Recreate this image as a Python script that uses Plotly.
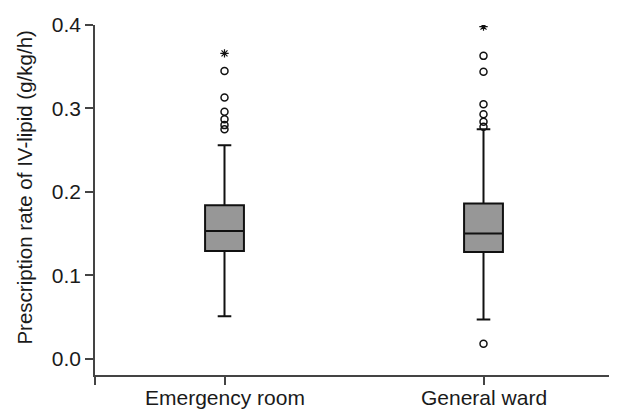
import plotly.graph_objects as go

categories = ["Emergency room", "General ward"]
q1 = [0.129, 0.128]
median = [0.153, 0.150]
q3 = [0.184, 0.186]
lower_whisker = [0.051, 0.047]
upper_whisker = [0.256, 0.275]
outliers_er = [0.275, 0.280, 0.287, 0.296, 0.313, 0.345]
outliers_gw = [0.018, 0.278, 0.284, 0.293, 0.305, 0.344, 0.363]
extremes_er = [0.366]
extremes_gw = [0.398]
y_ticks = [0.0, 0.1, 0.2, 0.3, 0.4]
y_title = "Prescription rate of IV-lipid (g/kg/h)"

pos = list(range(len(categories)))

# page body has an 8px default margin; compensate so the plot lands where the reference has it
OFF = 8
FONT = "Liberation Sans, Arial, sans-serif"

fig = go.Figure()
fig.add_trace(go.Box(
    x=pos, q1=q1, median=median, q3=q3,
    lowerfence=lower_whisker, upperfence=upper_whisker,
    width=0.15, whiskerwidth=0.35,
    fillcolor="#979797",
    line=dict(color="#111111", width=2),
    boxpoints=False, showlegend=False, hoverinfo="skip",
))

outs = [outliers_er, outliers_gw]
ext = [extremes_er, extremes_gw]
for i in pos:
    fig.add_trace(go.Scatter(
        x=[i] * len(outs[i]), y=outs[i], mode="markers",
        marker=dict(symbol="circle-open", size=7, color="#111111",
                    line=dict(width=1.5, color="#111111")),
        showlegend=False, hoverinfo="skip",
    ))
    fig.add_trace(go.Scatter(
        x=[i] * len(ext[i]), y=ext[i], mode="markers",
        marker=dict(symbol="asterisk-open", size=7, color="#111111",
                    line=dict(width=1.2, color="#111111")),
        showlegend=False, hoverinfo="skip",
    ))

# category labels under the axis
for i, name in zip(pos, categories):
    fig.add_annotation(
        x=i, xref="x", y=0, yref="paper", yanchor="top", yshift=-9,
        text=name, showarrow=False, font=dict(family=FONT, size=21, color="#1a1a1a"),
    )

# y-axis title
fig.add_annotation(
    x=0, xref="paper", xanchor="right", xshift=-57,
    y=0.534, yref="paper", yanchor="middle",
    text=y_title, textangle=-90, showarrow=False,
    font=dict(family=FONT, size=20.5, color="#1a1a1a"),
)

fig.update_layout(
    width=617 - OFF, height=410 - OFF,
    margin=dict(l=95 - OFF, r=4, t=25 - OFF, b=35, autoexpand=False),
    paper_bgcolor="white", plot_bgcolor="white",
    font=dict(family=FONT, size=21, color="#1a1a1a"),
)
fig.update_xaxes(
    range=[-0.5, 1.5],
    tickvals=[-0.5] + pos + [1.5],
    showticklabels=False,
    ticks="outside", ticklen=8, tickwidth=1.5, tickcolor="#444444",
    showline=True, linecolor="#444444", linewidth=1.5,
    showgrid=False, zeroline=False,
    automargin=False,
)
fig.update_yaxes(
    range=[-0.0195, 0.4],
    tickvals=y_ticks, ticktext=[f"{v:.1f}" for v in y_ticks],
    ticks="outside", ticklen=8, tickwidth=1.5, tickcolor="#444444",
    showline=True, linecolor="#444444", linewidth=1.5,
    showgrid=False, zeroline=False, tickfont=dict(size=21),
    automargin=False,
)

fig.write_html("out.html")
